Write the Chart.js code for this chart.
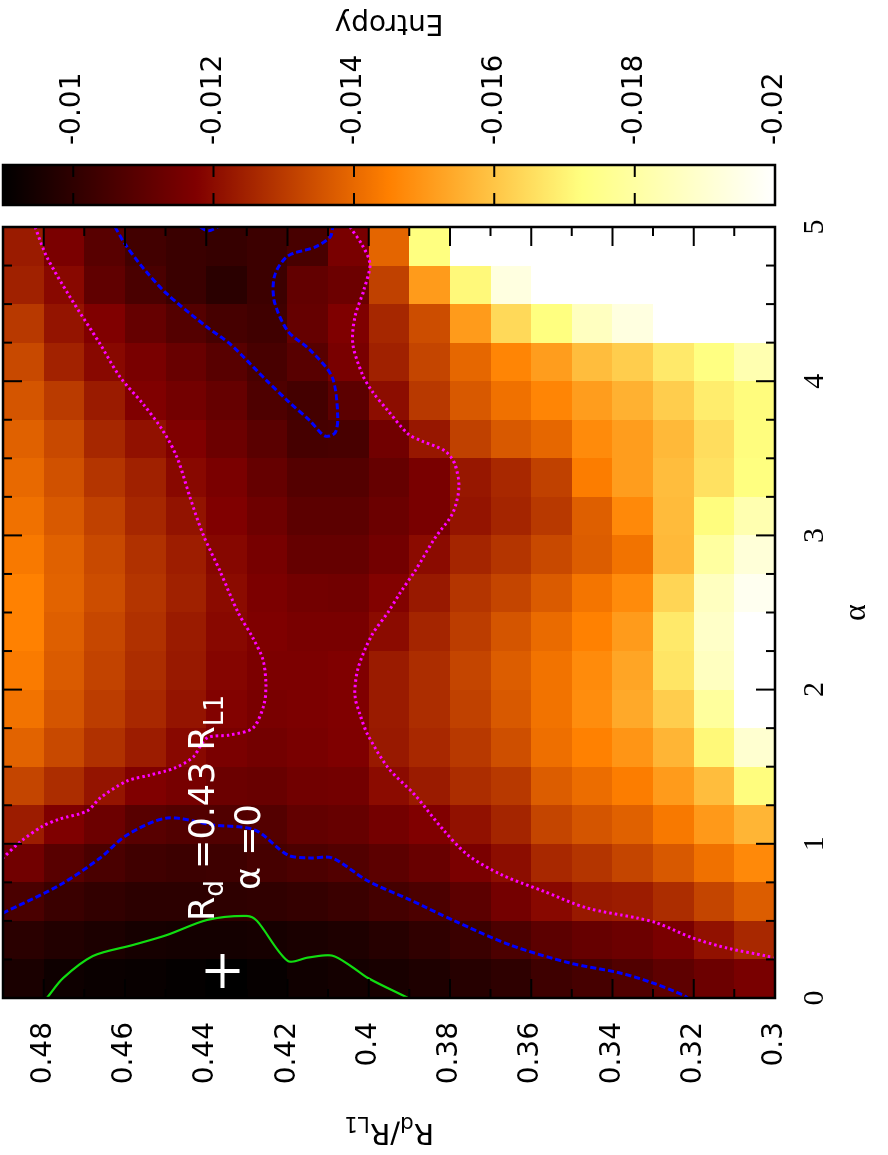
<!DOCTYPE html>
<html>
<head>
<meta charset="utf-8">
<script src="https://cdn.jsdelivr.net/npm/chart.js@4.4.1/dist/chart.umd.min.js"></script>
<style>
  html, body { margin: 0; padding: 0; background: #fff; overflow: hidden; }
  /* plot is laid out landscape, then turned a quarter turn to stand upright */
  #wrap { position: absolute; left: 0; top: 0; width: 1155px; height: 888px;
          transform-origin: 0 0; transform: translateY(1155px) rotate(-90deg); }
</style>
</head>
<body>
<div id="wrap"><canvas id="map" width="1155" height="888"></canvas></div>
<script>
// grid cells: lower edges in alpha and R_d/R_L1
const alphaVals = [0, 0.25, 0.5, 0.75, 1, 1.25, 1.5, 1.75, 2, 2.25, 2.5, 2.75, 3, 3.25, 3.5, 3.75, 4, 4.25, 4.5, 4.75];
const rVals = [0.30, 0.31, 0.32, 0.33, 0.34, 0.35, 0.36, 0.37, 0.38, 0.39, 0.40, 0.41, 0.42, 0.43, 0.44, 0.45, 0.46, 0.47, 0.48];
const alphaStep = 0.25;
const rStep = 0.01;

// entropy, one row per alpha, columns follow rVals
const entropy = [
  [-0.01159,-0.01133,-0.01103,-0.01073,-0.01051,-0.01034,-0.00999,-0.00982,-0.00965,-0.00952,-0.00943,-0.00935,-0.00913,-0.00900,-0.00909,-0.00917,-0.00922,-0.00930,-0.00956],
  [-0.01262,-0.01211,-0.01159,-0.01133,-0.01120,-0.01098,-0.01064,-0.01025,-0.01004,-0.00982,-0.00965,-0.00956,-0.00947,-0.00943,-0.00943,-0.00947,-0.00960,-0.00973,-0.00991],
  [-0.01375,-0.01323,-0.01271,-0.01236,-0.01228,-0.01193,-0.01150,-0.01098,-0.01064,-0.01047,-0.01025,-0.01012,-0.01004,-0.00999,-0.00995,-0.00995,-0.01008,-0.01025,-0.01060],
  [-0.01469,-0.01418,-0.01366,-0.01323,-0.01288,-0.01262,-0.01202,-0.01163,-0.01124,-0.01098,-0.01077,-0.01064,-0.01051,-0.01034,-0.01029,-0.01038,-0.01060,-0.01090,-0.01142],
  [-0.01564,-0.01504,-0.01435,-0.01383,-0.01357,-0.01323,-0.01254,-0.01211,-0.01176,-0.01150,-0.01120,-0.01111,-0.01081,-0.01073,-0.01077,-0.01090,-0.01133,-0.01172,-0.01236],
  [-0.01720,-0.01582,-0.01508,-0.01444,-0.01409,-0.01375,-0.01297,-0.01271,-0.01232,-0.01198,-0.01146,-0.01142,-0.01124,-0.01129,-0.01155,-0.01176,-0.01219,-0.01271,-0.01323],
  [-0.01899,-0.01711,-0.01564,-0.01495,-0.01452,-0.01413,-0.01344,-0.01297,-0.01262,-0.01228,-0.01172,-0.01159,-0.01146,-0.01163,-0.01193,-0.01236,-0.01280,-0.01331,-0.01387],
  [-0.02020,-0.01787,-0.01616,-0.01538,-0.01478,-0.01422,-0.01366,-0.01314,-0.01271,-0.01232,-0.01176,-0.01167,-0.01159,-0.01180,-0.01219,-0.01262,-0.01306,-0.01357,-0.01422],
  [-0.02020,-0.01864,-0.01668,-0.01530,-0.01474,-0.01422,-0.01375,-0.01323,-0.01271,-0.01232,-0.01176,-0.01167,-0.01167,-0.01185,-0.01228,-0.01271,-0.01318,-0.01370,-0.01439],
  [-0.02020,-0.01881,-0.01677,-0.01508,-0.01452,-0.01405,-0.01357,-0.01306,-0.01254,-0.01198,-0.01159,-0.01159,-0.01172,-0.01193,-0.01232,-0.01280,-0.01327,-0.01379,-0.01452],
  [-0.01968,-0.01864,-0.01633,-0.01474,-0.01426,-0.01370,-0.01323,-0.01288,-0.01228,-0.01180,-0.01142,-0.01146,-0.01167,-0.01198,-0.01245,-0.01288,-0.01340,-0.01388,-0.01452],
  [-0.01916,-0.01795,-0.01573,-0.01422,-0.01375,-0.01331,-0.01288,-0.01254,-0.01198,-0.01146,-0.01116,-0.01116,-0.01155,-0.01189,-0.01237,-0.01280,-0.01331,-0.01383,-0.01435],
  [-0.01830,-0.01720,-0.01577,-0.01469,-0.01379,-0.01297,-0.01254,-0.01219,-0.01159,-0.01129,-0.01098,-0.01098,-0.01137,-0.01176,-0.01215,-0.01258,-0.01314,-0.01366,-0.01418],
  [-0.01726,-0.01659,-0.01582,-0.01513,-0.01444,-0.01314,-0.01262,-0.01224,-0.01159,-0.01116,-0.01081,-0.01081,-0.01116,-0.01163,-0.01193,-0.01245,-0.01288,-0.01349,-0.01400],
  [-0.01720,-0.01651,-0.01573,-0.01513,-0.01474,-0.01396,-0.01366,-0.01314,-0.01224,-0.01142,-0.01055,-0.01051,-0.01094,-0.01133,-0.01176,-0.01211,-0.01258,-0.01331,-0.01383],
  [-0.01718,-0.01685,-0.01616,-0.01556,-0.01513,-0.01461,-0.01418,-0.01366,-0.01297,-0.01202,-0.01098,-0.01047,-0.01068,-0.01116,-0.01146,-0.01176,-0.01232,-0.01301,-0.01357],
  [-0.01830,-0.01730,-0.01677,-0.01616,-0.01582,-0.01513,-0.01461,-0.01396,-0.01323,-0.01245,-0.01159,-0.01090,-0.01055,-0.01090,-0.01124,-0.01159,-0.01193,-0.01249,-0.01331],
  [-0.02020,-0.02020,-0.02020,-0.01933,-0.01864,-0.01726,-0.01642,-0.01508,-0.01340,-0.01258,-0.01172,-0.01116,-0.01038,-0.01051,-0.01081,-0.01116,-0.01176,-0.01219,-0.01297],
  [-0.02020,-0.02020,-0.02020,-0.02020,-0.02020,-0.02020,-0.01933,-0.01713,-0.01508,-0.01314,-0.01133,-0.01111,-0.01029,-0.00991,-0.01025,-0.01060,-0.01107,-0.01193,-0.01245],
  [-0.02020,-0.02020,-0.02020,-0.02020,-0.02020,-0.02020,-0.02020,-0.02020,-0.01726,-0.01392,-0.01159,-0.01055,-0.01029,-0.01017,-0.01025,-0.01042,-0.01090,-0.01163,-0.01232],
];

const alphaTicks = [0, 1, 2, 3, 4, 5];
const rTicks = [0.30, 0.32, 0.34, 0.36, 0.38, 0.40, 0.42, 0.44, 0.46, 0.48];
const cbTicks = [-0.01, -0.012, -0.014, -0.016, -0.018, -0.02];

// contour lines as [alpha, R_d/R_L1]
const contourGreen = [[0.000,0.4792],[0.130,0.4752],[0.272,0.4679],[0.344,0.4580],[0.409,0.4496],[0.506,0.4398],[0.532,0.4300],[0.500,0.4275],[0.240,0.4199],[0.262,0.4150],[0.275,0.4090],[0.200,0.4040],[0.130,0.4002],[0.000,0.3903]];
const contourBlueLow = [[0.551,0.4900],[0.733,0.4760],[0.908,0.4661],[1.057,0.4595],[1.167,0.4496],[1.122,0.4383],[1.089,0.4280],[0.927,0.4199],[0.908,0.4144],[0.908,0.4090],[0.759,0.4002],[0.636,0.3898],[0.499,0.3788],[0.344,0.3652],[0.227,0.3505],[0.162,0.3381],[0.097,0.3300],[0.019,0.3226],[0.000,0.3215]];
const contourBlueHigh = [[5.000,0.4624],[4.890,0.4600],[4.721,0.4551],[4.565,0.4496],[4.351,0.4398],[4.241,0.4341],[4.001,0.4250],[3.872,0.4199],[3.742,0.4144],[3.645,0.4108],[3.664,0.4083],[3.768,0.4076],[4.027,0.4090],[4.202,0.4144],[4.325,0.4199],[4.527,0.4233],[4.689,0.4231],[4.812,0.4199],[4.870,0.4132],[4.935,0.4095],[5.000,0.4088]];
const contourBlueTip = [[5.000,0.4415],[4.975,0.4395],[5.000,0.4371]];
const contourMagentaHigh = [[5.000,0.4821],[4.805,0.4792],[4.546,0.4735],[4.241,0.4661],[4.027,0.4612],[3.852,0.4555],[3.677,0.4506],[3.508,0.4472],[3.249,0.4440],[3.009,0.4408],[2.769,0.4366],[2.503,0.4322],[2.335,0.4285],[2.192,0.4260],[2.030,0.4253],[1.900,0.4258],[1.751,0.4285],[1.706,0.4341],[1.686,0.4398],[1.563,0.4432],[1.492,0.4477],[1.446,0.4538],[1.407,0.4595],[1.297,0.4661],[1.213,0.4693],[1.161,0.4760],[1.115,0.4802],[1.012,0.4858],[0.908,0.4900]];
const contourMagentaLow = [[5.000,0.4046],[4.883,0.4016],[4.760,0.3997],[4.591,0.4012],[4.416,0.4034],[4.241,0.4039],[4.047,0.4016],[3.936,0.3992],[3.807,0.3952],[3.658,0.3903],[3.612,0.3869],[3.547,0.3812],[3.463,0.3788],[3.314,0.3778],[3.145,0.3793],[2.983,0.3837],[2.769,0.3886],[2.626,0.3923],[2.503,0.3952],[2.354,0.3992],[2.140,0.4026],[1.965,0.4034],[1.835,0.4021],[1.706,0.4002],[1.492,0.3952],[1.316,0.3886],[1.102,0.3820],[0.927,0.3756],[0.798,0.3672],[0.694,0.3571],[0.584,0.3463],[0.519,0.3340],[0.486,0.3290],[0.389,0.3202],[0.324,0.3118],[0.272,0.3020],[0.259,0.3000]];

// reference disc size marker
const markAlpha = 0.175;
const markR = 0.436;

// black -> dark red -> orange -> yellow -> white
const paletteStops = [
  [-0.009, [0, 0, 0]],
  [-0.01175, [128, 0, 0]],
  [-0.0145, [255, 128, 0]],
  [-0.01725, [255, 255, 128]],
  [-0.02, [255, 255, 255]],
];
const cbMin = -0.02, cbMax = -0.009;

function colorFor(v) {
  if (v >= paletteStops[0][0]) return 'rgb(0,0,0)';
  for (let i = 1; i < paletteStops.length; i++) {
    const [v0, c0] = paletteStops[i - 1];
    const [v1, c1] = paletteStops[i];
    if (v >= v1) {
      const t = (v - v0) / (v1 - v0);
      const c = c0.map((a, k) => Math.round(a + (c1[k] - a) * t));
      return `rgb(${c[0]},${c[1]},${c[2]})`;
    }
  }
  return 'rgb(255,255,255)';
}

const toPts = arr => arr.map(([a, r]) => ({ x: a, y: r }));

function drawRich(ctx, parts, x, y, size, family, align) {
  const sub = size * 0.75;
  let total = 0;
  parts.forEach(([t, s]) => {
    ctx.font = `${s ? sub : size}px ${family}`;
    total += ctx.measureText(t).width;
  });
  let cx = align === 'center' ? x - total / 2 : x;
  ctx.textAlign = 'left';
  ctx.textBaseline = 'alphabetic';
  parts.forEach(([t, s]) => {
    ctx.font = `${s ? sub : size}px ${family}`;
    ctx.fillText(t, cx, s ? y + size * 0.25 : y);
    cx += ctx.measureText(t).width;
  });
}

const heatmap = {
  id: 'heatmap',
  beforeDatasetsDraw(chart) {
    const { ctx, chartArea: a, scales: { x, y } } = chart;
    ctx.save();
    ctx.beginPath();
    ctx.rect(a.left, a.top, a.width, a.height);
    ctx.clip();
    alphaVals.forEach((al, i) => {
      const x0 = Math.round(x.getPixelForValue(al));
      const x1 = Math.round(x.getPixelForValue(al + alphaStep));
      rVals.forEach((r, j) => {
        const y0 = Math.round(y.getPixelForValue(r + rStep));
        const y1 = Math.round(y.getPixelForValue(r));
        ctx.fillStyle = colorFor(entropy[i][j]);
        ctx.fillRect(x0, y0, x1 - x0, y1 - y0);
      });
    });
    ctx.restore();
  },
};

const frame = {
  id: 'frame',
  afterDatasetsDraw(chart) {
    const { ctx, chartArea: a, scales: { x, y, cb } } = chart;
    ctx.save();
    ctx.strokeStyle = '#000';
    ctx.lineWidth = 2;
    ctx.beginPath();
    // inward ticks on all four sides
    for (let k = 0; k <= 20; k++) {
      const px = x.getPixelForValue(k * 0.25);
      const len = k % 4 === 0 ? 19 : 9;
      ctx.moveTo(px, a.bottom); ctx.lineTo(px, a.bottom - len);
      ctx.moveTo(px, a.top); ctx.lineTo(px, a.top + len);
    }
    for (let k = 0; k <= 18; k++) {
      const py = y.getPixelForValue(0.30 + k * 0.01);
      const len = k % 2 === 0 ? 19 : 9;
      ctx.moveTo(a.left, py); ctx.lineTo(a.left + len, py);
      ctx.moveTo(a.right, py); ctx.lineTo(a.right - len, py);
    }
    ctx.stroke();
    ctx.lineWidth = 2.5;
    ctx.strokeRect(a.left, a.top, a.width, a.height);

    // colour box
    const bx0 = 950, bx1 = 990;
    const top = cb.getPixelForValue(cbMax), bot = cb.getPixelForValue(cbMin);
    const g = ctx.createLinearGradient(0, top, 0, bot);
    paletteStops.forEach(([v, c]) => {
      const f = Math.min(1, Math.max(0, (cbMax - v) / (cbMax - cbMin)));
      g.addColorStop(f, `rgb(${c[0]},${c[1]},${c[2]})`);
    });
    ctx.fillStyle = g;
    ctx.fillRect(bx0, top, bx1 - bx0, bot - top);
    ctx.lineWidth = 2;
    ctx.beginPath();
    cbTicks.forEach(v => {
      const py = cb.getPixelForValue(v);
      ctx.moveTo(bx0, py); ctx.lineTo(bx0 + 12, py);
      ctx.moveTo(bx1, py); ctx.lineTo(bx1 - 12, py);
    });
    ctx.stroke();
    ctx.lineWidth = 2.5;
    ctx.strokeRect(bx0, top, bx1 - bx0, bot - top);

    // labels
    ctx.fillStyle = '#000';
    ctx.font = '32px "Liberation Serif"';
    ctx.textAlign = 'center';
    ctx.textBaseline = 'middle';
    ctx.fillText('α', (a.left + a.right) / 2, 857);

    ctx.save();
    ctx.translate(1140, (top + bot) / 2);
    ctx.rotate(-Math.PI / 2);
    ctx.font = '28px "DejaVu Sans"';
    ctx.textAlign = 'center';
    ctx.textBaseline = 'alphabetic';
    ctx.fillText('Entropy', 0, 0);
    ctx.restore();

    ctx.save();
    ctx.translate(31, (a.top + a.bottom) / 2);
    ctx.rotate(-Math.PI / 2);
    drawRich(ctx, [['R'], ['d', true], ['/R'], ['L1', true]], 0, 0, 29, '"DejaVu Sans"', 'center');
    ctx.restore();

    ctx.fillStyle = '#fff';
    drawRich(ctx, [['R'], ['d', true], [' =0.43 R'], ['L1', true]], 234, 214, 35, '"DejaVu Sans"', 'left');
    drawRich(ctx, [['α =0']], 265, 260, 35, '"DejaVu Sans"', 'left');
    ctx.restore();
  },
};

const lineSet = (pts, color, dash, width) => ({
  data: toPts(pts),
  showLine: true,
  borderColor: color,
  borderWidth: width,
  borderDash: dash,
  pointRadius: 0,
  tension: 0.3,
});

// keeps label padding from eating into the plot height
const noVertPad = s => { s.paddingTop = 0; s.paddingBottom = 0; };

new Chart(document.getElementById('map'), {
  type: 'scatter',
  data: {
    datasets: [
      lineSet(contourGreen, '#11dd11', [], 2.2),
      lineSet(contourBlueLow, '#0000ff', [6, 3], 3),
      lineSet(contourBlueHigh, '#0000ff', [6, 3], 3),
      lineSet(contourBlueTip, '#0000ff', [6, 3], 3),
      lineSet(contourMagentaHigh, '#ff00ff', [2.5, 3], 3),
      lineSet(contourMagentaLow, '#ff00ff', [2.5, 3], 3),
      {
        data: [{ x: markAlpha, y: markR }],
        pointStyle: 'cross',
        pointRadius: 17,
        borderColor: '#fff',
        pointBorderWidth: 4,
        showLine: false,
      },
    ],
  },
  options: {
    responsive: false,
    animation: false,
    devicePixelRatio: 1,
    layout: { padding: { top: 3, left: 0, right: 0, bottom: 0 }, autoPadding: false },
    plugins: { legend: { display: false }, tooltip: { enabled: false } },
    scales: {
      x: {
        type: 'linear', min: 0, max: 5, position: 'bottom',
        afterFit: s => { s.height = 113; s.paddingLeft = 0; s.paddingRight = 0; },
        afterBuildTicks: s => { s.ticks = alphaTicks.map(v => ({ value: v })); },
        grid: { display: false, drawTicks: false },
        border: { display: false },
        ticks: { color: '#000', padding: 22, maxRotation: 0, font: { family: 'Liberation Serif', size: 30 } },
      },
      y: {
        type: 'linear', min: 0.30, max: 0.49, position: 'left',
        afterFit: s => { s.width = 157; noVertPad(s); },
        afterBuildTicks: s => { s.ticks = rTicks.map(v => ({ value: v })); },
        grid: { display: false, drawTicks: false },
        border: { display: false },
        ticks: { color: '#000', padding: 24, font: { family: 'DejaVu Sans', size: 28 }, callback: v => String(+v.toFixed(2)) },
      },
      cb: {
        type: 'linear', min: cbMin, max: cbMax, position: 'right',
        afterFit: s => { s.width = 227; noVertPad(s); },
        afterBuildTicks: s => { s.ticks = cbTicks.map(v => ({ value: v })); },
        grid: { display: false, drawTicks: false },
        border: { display: false },
        ticks: { color: '#000', padding: 82, font: { family: 'DejaVu Sans', size: 28 }, callback: v => String(+v.toFixed(3)) },
      },
    },
  },
  plugins: [heatmap, frame],
});
</script>
</body>
</html>
